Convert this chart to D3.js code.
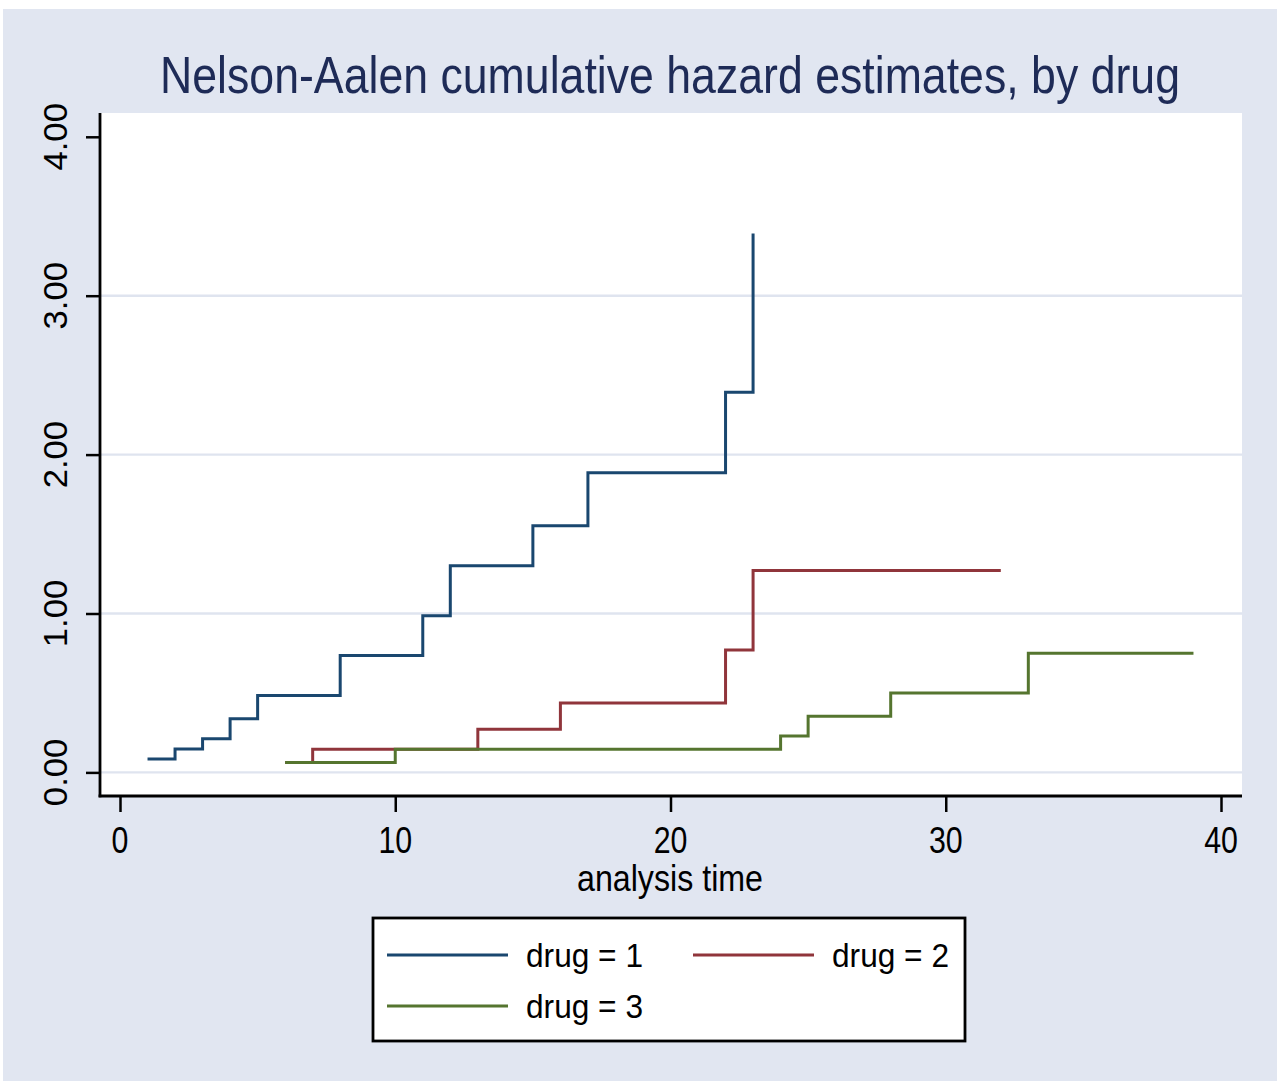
<!DOCTYPE html>
<html>
<head>
<meta charset="utf-8">
<script src="https://cdn.jsdelivr.net/npm/d3@7"></script>
<style>
html, body { margin: 0; padding: 0; background: #ffffff; }
svg { display: block; }
text { font-family: "Liberation Sans", Arial, sans-serif; }
</style>
</head>
<body>
<script>
// ---- data ----
const titleText = "Nelson-Aalen cumulative hazard estimates, by drug";
const xTitle = "analysis time";
const xTicks = [0, 10, 20, 30, 40];
const yTicks = [0, 1, 2, 3, 4];
const yGrid = [0, 1, 2, 3];
const seriesNames = ["drug = 1", "drug = 2", "drug = 3"];
const seriesColors = ["#1a476f", "#90353b", "#55752f"];
const drug1Time = [1, 2, 3, 4, 5, 8, 11, 12, 15, 17, 22, 23];
const drug1Haz  = [0.085, 0.148, 0.211, 0.337, 0.484, 0.736, 0.986, 1.301, 1.553, 1.885, 2.392, 3.392];
const drug2Time = [6, 7, 13, 16, 22, 23, 32];
const drug2Haz  = [0.0625, 0.1458, 0.2708, 0.4375, 0.7708, 1.2708, 1.2708];
const drug3Time = [6, 10, 24, 25, 28, 33, 39];
const drug3Haz  = [0.0625, 0.1458, 0.229, 0.354, 0.50, 0.75, 0.75];

const series = [
  drug1Time.map((t, i) => [t, drug1Haz[i]]),
  drug2Time.map((t, i) => [t, drug2Haz[i]]),
  drug3Time.map((t, i) => [t, drug3Haz[i]])
];

// ---- layout ----
const W = 1280, H = 1084;
const svg = d3.select("body").append("svg").attr("width", W).attr("height", H);

const bg = "#e1e6f1";
svg.append("rect").attr("x", 3).attr("y", 9).attr("width", 1274).attr("height", 1072).attr("fill", bg);

const plot = { left: 100, right: 1242, top: 113, bottom: 796 };
svg.append("rect").attr("x", plot.left).attr("y", plot.top)
  .attr("width", plot.right - plot.left).attr("height", plot.bottom - plot.top).attr("fill", "#ffffff");

const x = d3.scaleLinear().domain([0, 40]).range([120, 1221]);
const y = d3.scaleLinear().domain([0, 4]).range([772.4, 136.8]);

// gridlines
svg.append("g").selectAll("line").data(yGrid).join("line")
  .attr("x1", plot.left + 1).attr("x2", plot.right)
  .attr("y1", d => y(d)).attr("y2", d => y(d))
  .attr("stroke", "#dfe4ef").attr("stroke-width", 2.4);

// series
const line = d3.line().x(d => x(d[0])).y(d => y(d[1])).curve(d3.curveStepAfter);
svg.append("g").selectAll("path").data(series).join("path")
  .attr("d", d => line(d))
  .attr("fill", "none")
  .attr("stroke", (d, i) => seriesColors[i])
  .attr("stroke-width", 3)
  .attr("stroke-linejoin", "miter")
  .attr("stroke-linecap", "butt");

// axes
const yAxis = d3.axisLeft(y).tickValues(yTicks).tickSize(14).tickFormat("");
const yg = svg.append("g").attr("transform", `translate(${plot.left},0)`).call(yAxis);
yg.select(".domain").remove();
yg.selectAll(".tick line").attr("stroke", "#000").attr("stroke-width", 2.5);

const xAxis = d3.axisBottom(x).tickValues(xTicks).tickSize(16).tickFormat("");
const xg = svg.append("g").attr("transform", `translate(0,${plot.bottom})`).call(xAxis);
xg.select(".domain").remove();
xg.selectAll(".tick line").attr("stroke", "#000").attr("stroke-width", 2.5);

svg.append("line").attr("x1", plot.left).attr("x2", plot.left)
  .attr("y1", plot.top).attr("y2", plot.bottom + 1.3)
  .attr("stroke", "#000").attr("stroke-width", 2.8);
svg.append("line").attr("x1", plot.left - 1.4).attr("x2", plot.right)
  .attr("y1", plot.bottom).attr("y2", plot.bottom)
  .attr("stroke", "#000").attr("stroke-width", 2.8);

function squeeze(sel, factor) {
  sel.each(function() {
    const len = this.getComputedTextLength();
    d3.select(this).attr("textLength", len * factor).attr("lengthAdjust", "spacingAndGlyphs");
  });
}

// y tick labels (rotated)
const yl = svg.append("g").selectAll("text").data(yTicks).join("text")
  .attr("transform", d => `translate(67,${y(d)}) rotate(-90)`)
  .attr("text-anchor", "middle")
  .attr("font-size", 34)
  .attr("fill", "#000")
  .text(d => d3.format(".2f")(d));
squeeze(yl, 1.02);

// x tick labels
const xl = svg.append("g").selectAll("text").data(xTicks).join("text")
  .attr("x", d => x(d)).attr("y", 853)
  .attr("text-anchor", "middle")
  .attr("font-size", 37)
  .attr("fill", "#000")
  .text(d => d);
squeeze(xl, 0.82);

// x title
const xt = svg.append("text").attr("x", 670).attr("y", 891)
  .attr("text-anchor", "middle").attr("font-size", 37).attr("fill", "#000")
  .text(xTitle);
xt.attr("textLength", 186).attr("lengthAdjust", "spacingAndGlyphs");

// title
svg.append("text").attr("x", 670).attr("y", 93)
  .attr("text-anchor", "middle").attr("font-size", 52).attr("fill", "#1e2b57")
  .attr("textLength", 1020).attr("lengthAdjust", "spacingAndGlyphs")
  .text(titleText);

// legend
const lg = svg.append("g");
lg.append("rect").attr("x", 373).attr("y", 918).attr("width", 592).attr("height", 123)
  .attr("fill", "#ffffff").attr("stroke", "#000").attr("stroke-width", 2.8);
const legendPos = [
  { lx: 387, tx: 526, ly: 955 },
  { lx: 693, tx: 832, ly: 955 },
  { lx: 387, tx: 526, ly: 1006 }
];
seriesNames.forEach((name, i) => {
  const p = legendPos[i];
  lg.append("line").attr("x1", p.lx).attr("x2", p.lx + 121)
    .attr("y1", p.ly).attr("y2", p.ly)
    .attr("stroke", seriesColors[i]).attr("stroke-width", 3);
  lg.append("text").attr("x", p.tx).attr("y", p.ly + 12)
    .attr("font-size", 33).attr("fill", "#000")
    .attr("textLength", 117).attr("lengthAdjust", "spacingAndGlyphs")
    .text(name);
});
</script>
</body>
</html>
